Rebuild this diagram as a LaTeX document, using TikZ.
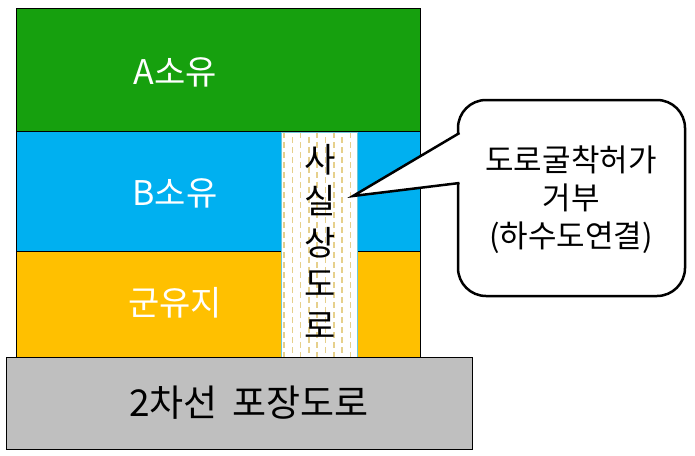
\documentclass[tikz,border=0pt]{standalone}
\usepackage{fontspec}
\setmainfont{Noto Sans CJK KR}
\definecolor{agreen}{RGB}{22,160,14}
\definecolor{bblue}{RGB}{0,176,240}
\definecolor{corange}{RGB}{255,192,0}
\definecolor{roadgray}{RGB}{191,191,191}
\definecolor{stripe}{RGB}{230,208,140}
\definecolor{stripborder}{RGB}{110,200,215}
\begin{document}
\begin{tikzpicture}[x=1pt,y=-1pt,
  land/.style={draw=black,line width=1pt},
  big/.style={font=\fontsize{34}{40}\selectfont},
  callouttext/.style={font=\fontsize{31}{38}\selectfont,align=center}]
\useasboundingbox (0,0) rectangle (695,455);
% land blocks
\draw[land,fill=agreen] (16,8) rectangle (420,131);
\draw[land,fill=bblue] (16,131) rectangle (420,251);
\draw[land,fill=corange] (16,251) rectangle (420,357);
\node[big,text=white] (A) at (175,72) {A소유};
\node[big,text=white] (B) at (175,193) {B소유};
\node[big,text=white] (C) at (175,303) {군유지};
% strip
\fill[white] (281,132) rectangle (357,357);
\begin{scope}
\clip (281,132) rectangle (357,357);
\foreach \i in {0,...,9}{
  \pgfmathsetmacro{\xx}{284+8.3*\i}
  \pgfmathsetmacro{\ph}{mod(\i,2)*5}
  \draw[stripe,line width=1.5pt,dash pattern=on 6pt off 4pt,dash phase=\ph pt] (\xx,132) -- (\xx,357);
}
\end{scope}
\draw[stripborder,line width=0.8pt] (281,132) rectangle (357,357);
\node[align=center,inner sep=0pt,font=\fontsize{34}{41.5}\selectfont] (strip) at (320,241) {사\\실\\상\\도\\로};
% road
\draw[land,fill=roadgray] (6,357) rectangle (472,449);
\node[font=\fontsize{37}{44}\selectfont] (road) at (249,403) {2차선\hspace{0.4em}포장도로};
% callout
\draw[line width=2.5pt,fill=white,rounded corners=28pt] (458,100) rectangle (685,296);
\coordinate (tip) at (353,196);
\coordinate (p1) at (459.5,133);
\coordinate (p2) at (459.5,183);
\fill[white] (p1) -- (tip) -- (p2) -- ([xshift=3pt]p2) -- ([xshift=3pt]p1) -- cycle;
\draw[line width=2.5pt,line join=miter] (p1) -- (tip) -- (p2);
\node[callouttext] (callout) at (571,200) {도로굴착허가\\거부\\(하수도연결)};
\end{tikzpicture}
\end{document}
